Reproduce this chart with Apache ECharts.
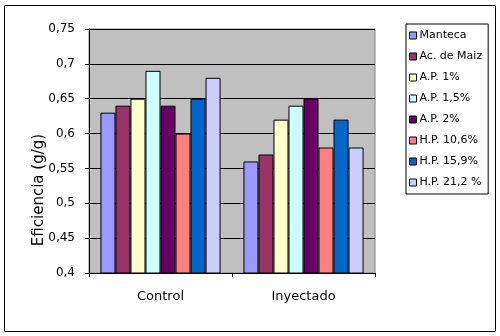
<!DOCTYPE html>
<html><head><meta charset="utf-8">
<script src="https://cdn.jsdelivr.net/npm/echarts@6/dist/echarts.min.js"></script>
<style>html,body{margin:0;padding:0;background:#fff}#c{width:500px;height:336px}</style>
</head><body><div id="c"></div>
<script>
var categories = ['Control', 'Inyectado'];
var seriesNames = ['Manteca', 'Ac. de Maiz', 'A.P. 1%', 'A.P. 1,5%', 'A.P. 2%', 'H.P. 10,6%', 'H.P. 15,9%', 'H.P. 21,2 %'];
var manteca = [0.63, 0.56];
var acMaiz = [0.64, 0.57];
var ap1 = [0.65, 0.62];
var ap15 = [0.69, 0.64];
var ap2 = [0.64, 0.65];
var hp106 = [0.60, 0.58];
var hp159 = [0.65, 0.62];
var hp212 = [0.68, 0.58];
var seriesValues = [manteca, acMaiz, ap1, ap15, ap2, hp106, hp159, hp212];
var colors = ['#9999FF', '#993366', '#FFFFCC', '#CCFFFF', '#660066', '#FF8080', '#0066CC', '#CCCCFF'];
var yTicks = ['0,4', '0,45', '0,5', '0,55', '0,6', '0,65', '0,7', '0,75'];
var yTitle = 'Eficiencia (g/g)';

var chart = echarts.init(document.getElementById('c'), null, {renderer: 'canvas'});
var font = 'DejaVu Sans';
chart.setOption({
  animation: false,
  color: colors,
  textStyle: {fontFamily: font},
  grid: {left: 89, right: 125, top: 29, bottom: 63, show: true, backgroundColor: '#C0C0C0', borderColor: '#808080', borderWidth: 1},
  graphic: [
    {type: 'rect', shape: {x: 4.5, y: 5.5, width: 491, height: 326}, style: {fill: 'none', stroke: '#000', lineWidth: 1}, silent: true},
    {type: 'text', x: 39, y: 190, rotation: Math.PI / 2, silent: true,
     style: {text: yTitle, fill: '#000', font: '15px "DejaVu Sans"', textAlign: 'center', textVerticalAlign: 'middle'}}
  ],
  legend: {
    orient: 'vertical', left: 406, top: 24, width: 82,
    borderColor: '#000', borderWidth: 1, padding: [6, 6, 6, 3],
    itemWidth: 7, itemHeight: 7, itemGap: 10, icon: 'rect',
    itemStyle: {borderColor: '#000', borderWidth: 1},
    textStyle: {fontFamily: font, fontSize: 11, color: '#000', padding: [0, 0, 0, -2]},
    data: seriesNames
  },
  xAxis: {
    type: 'category', data: categories,
    axisLine: {lineStyle: {color: '#000', width: 1}},
    axisTick: {show: true, length: 4, lineStyle: {color: '#000'}},
    axisLabel: {fontFamily: font, fontSize: 13, color: '#000', margin: 17}
  },
  yAxis: {
    type: 'value', min: 0.4, max: 0.75, interval: 0.05,
    axisLine: {show: true, lineStyle: {color: '#000'}},
    axisTick: {show: true, length: 4, lineStyle: {color: '#000'}},
    splitLine: {lineStyle: {color: '#000', width: 1}},
    axisLabel: {fontFamily: font, fontSize: 12, color: '#000', margin: 14,
      formatter: function (v) { var i = Math.round((v - 0.4) / 0.05); return yTicks[i]; }}
  },
  series: seriesNames.map(function (n, i) {
    return {name: n, type: 'bar', data: seriesValues[i], barGap: '0%', barCategoryGap: '16%',
      itemStyle: {borderColor: '#000', borderWidth: 1}};
  })
});
</script></body></html>
